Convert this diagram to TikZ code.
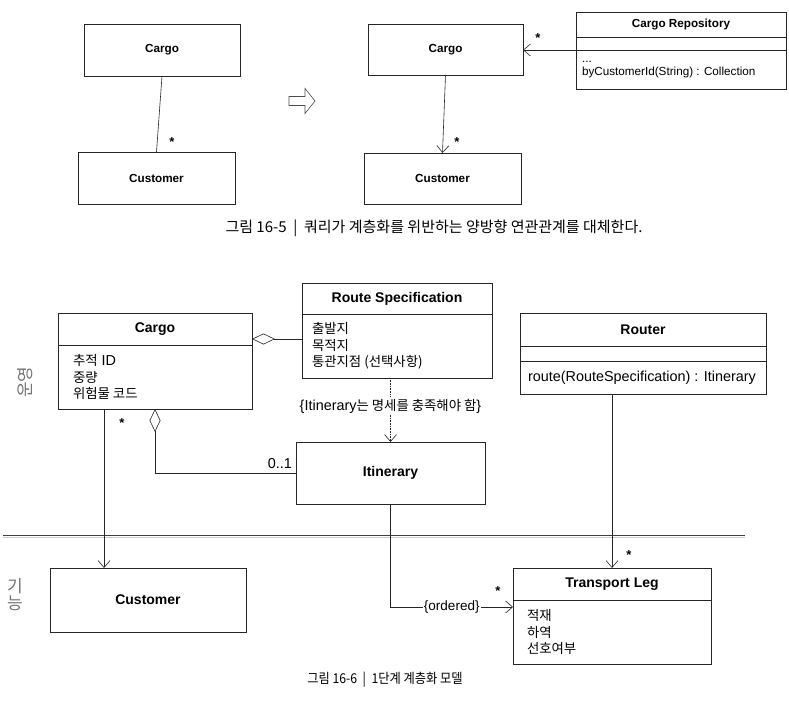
\documentclass[tikz,border=0pt]{standalone}
\usepackage{graphicx}
\usepackage{fontspec}
\setmainfont{Liberation Sans}
\newfontfamily\kr{Noto Sans CJK KR}[Scale=0.93]
\newfontfamily\capfont{Noto Sans CJK KR}
\usetikzlibrary{arrows.meta}

\begin{document}
\begin{tikzpicture}[%
		x=1pt,y=-1pt,
		line width=0.6pt,
		every node/.style={inner sep=0pt,outer sep=0pt},
		classbox/.style 2 args={draw=black!85,anchor=north west,minimum width=#1pt,minimum height=#2pt},
		smallname/.style={font=\fontsize{11.7}{14}\selectfont\bfseries},
		bigname/.style={font=\fontsize{14}{17}\selectfont\bfseries},
		smalltext/.style={anchor=west,align=left,font=\fontsize{11.7}{13.5}\selectfont},
		attrtext/.style={anchor=west,align=left,font=\fontsize{14.4}{16.6}\selectfont},
		mult/.style={font=\fontsize{13}{13}\selectfont\bfseries},
		assoc/.style={draw=black!85},
		navig/.style={draw=black!85,-{Straight Barb[length=7pt,width=12pt]}},
		agg/.style={draw=black!85,-{Diamond[open,length=23pt,width=11pt]}},
		sidelabel/.style={text=black!55,font=\fontsize{17}{17}\selectfont\capfont},
		figcaption/.style={font=\fontsize{13.6}{16}\selectfont\capfont}]
		\useasboundingbox (0,0) rectangle (789,703);
		\node[classbox={156}{52},smallname] (cargoA) at (84,24) {Cargo};
		\node[classbox={157}{52},smallname] (custA) at (78,152) {Customer};
		\draw[assoc] (cargoA.south) -- (custA.north);
		\node[mult] (multA) at (172,142) {*};
		\draw[draw=black!70] (289,96.5) -- (305,96.5) -- (305,88.5) -- (315,101) -- (305,113.5) -- (305,105.5) -- (289,105.5) -- cycle;
		\node[classbox={155}{51},smallname] (cargoB) at (368,24) {Cargo};
		\node[classbox={157}{51},smallname] (custB) at (364,153) {Customer};
		\draw[navig] (cargoB.south) -- (custB.north);
		\node[mult] (multB) at (457,142) {*};
		\node[classbox={210}{25},smallname] (repoName) at (576,12) {Cargo Repository};
		\node[classbox={210}{13}] (repoAttr) at (repoName.south west) {};
		\node[classbox={210}{39}] (repoOps) at (repoAttr.south west) {};
		\node[smalltext] (repoOpsText) at ([xshift=6pt]repoOps.west) {...\\byCustomerId(String) : Collection};
		\draw[navig] (repoOps.north west) -- (repoOps.north west -| cargoB.east);
		\node[mult] (multC) at (538,38) {*};
		\node[figcaption,font=\fontsize{15}{16}\selectfont\capfont] (figA) at (434,228) {그림 16-5 \ | \ 쿼리가 계층화를 위반하는 양방향 연관관계를 대체한다.};

		\node[sidelabel,rotate=90] (opsLabel) at (25,382) {운영};
		\node[sidelabel,align=center] (baseLabel) at (15,595) {기\\능};
		\node[classbox={194}{32},bigname] (cargoName) at (58,313) {Cargo};
		\node[classbox={194}{64}] (cargoAttr) at (cargoName.south west) {};
		\node[attrtext] (cargoAttrText) at ([xshift=15pt]cargoAttr.west) {{\kr 추적} ID\\{\kr 중량}\\{\kr 위험물 코드}};
		\node[classbox={190}{31},bigname] (specName) at (302,283) {Route Specification};
		\node[classbox={190}{64}] (specAttr) at (specName.south west) {};
		\node[attrtext] (specAttrText) at ([xshift=10pt]specAttr.west) {{\kr 출발지}\\{\kr 목적지}\\{\kr 통관지점 (선택사항)}};
		\node[classbox={189}{62},bigname] (itin) at (296,442) {Itinerary};
		\node[classbox={246}{33},bigname] (routerName) at (520,313) {Router};
		\node[classbox={246}{15}] (routerAttr) at (routerName.south west) {};
		\node[classbox={246}{33}] (routerOps) at (routerAttr.south west) {};
		\node[attrtext] (routerOpsText) at ([xshift=8pt]routerOps.west) {route(RouteSpecification) : Itinerary};
		\node[classbox={196}{64},bigname] (cust) at (50,568) {Customer};
		\node[classbox={198}{32},bigname] (legName) at (513,568) {Transport Leg};
		\node[classbox={198}{64}] (legAttr) at (legName.south west) {};
		\node[attrtext] (legAttrText) at ([xshift=14pt]legAttr.west) {{\kr 적재}\\{\kr 하역}\\{\kr 선호여부}};
		\draw[black!20,line width=1.2pt] (3,537.8) -- (745,537.8);
		\draw[black!75,line width=1.6pt] (3,535.6) -- (745,535.6);

		\draw[agg] ([yshift=-25pt]specAttr.north west) -- ([yshift=-25pt]specAttr.north west -| cargoName.east);
		\draw[agg] (itin.west) node[anchor=south east,font=\fontsize{14.4}{16}\selectfont,xshift=-4pt,yshift=4pt] (zeroOne) {0..1} -| ([xshift=97pt]cargoAttr.south west);
		\draw[navig] ([xshift=46pt]cargoAttr.south west) -- ([xshift=46pt]cargoAttr.south west |- cust.north);
		\node[mult] (multD) at (122,423) {*};
		\draw[navig,densely dotted] (specAttr.south -| itin.north) -- node[pos=0.44,fill=white,inner sep=2pt,font=\fontsize{14.4}{16}\selectfont] (specNote) {\{Itinerary{\kr 는 명세를 충족해야 함}\}} (itin.north);
		\draw[navig] (routerOps.south -| legName.north) -- (legName.north);
		\node[mult] (multE) at (629,555) {*};
		\draw[navig] (itin.south) |- node[pos=0.75,fill=white,inner xsep=1pt,font=\fontsize{13.5}{14}\selectfont] (ordered) {\{ordered\}} ([yshift=-7pt]legAttr.north west);
		\node[mult] (multF) at (498,591) {*};
		\node[figcaption] (figB) at (385,680) {\scalebox{0.9}[1]{그림 16-6 \ | \ 1단계 계층화 모델}};
\end{tikzpicture}
\end{document}
